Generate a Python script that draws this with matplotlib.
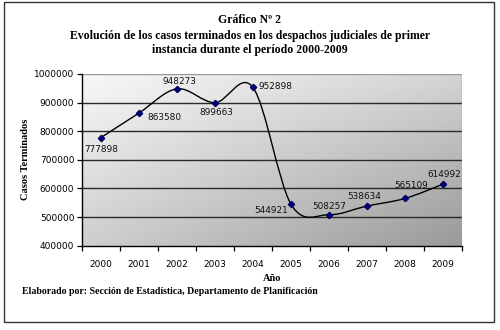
import numpy as np
import matplotlib
matplotlib.use("Agg")
import matplotlib.pyplot as plt
from matplotlib.path import Path
from matplotlib.patches import PathPatch, Rectangle

# Casos terminados por año
years = ["2000", "2001", "2002", "2003", "2004", "2005", "2006", "2007", "2008", "2009"]
casos = [777898, 863580, 948273, 899663, 952898, 544921, 508257, 538634, 565109, 614992]
y_ticks = [400000, 500000, 600000, 700000, 800000, 900000, 1000000]

title_lines = [
    "Gráfico Nº 2",
    "Evolución de los casos terminados en los despachos judiciales de primer",
    "instancia durante el período 2000-2009",
]
footer = "Elaborado por: Sección de Estadística, Departamento de Planificación"

W, H = 500, 330
fig = plt.figure(figsize=(W / 100, H / 100), dpi=100)
fig.patch.set_facecolor("white")

# outer frame
fig.add_artist(Rectangle((4 / W, 1 - 322 / H), 490 / W, 320 / H,
                         transform=fig.transFigure, fill=False,
                         edgecolor="#333333", lw=1.0))

ax = fig.add_axes([82 / W, 1 - 245.7 / H, 380 / W, 171.7 / H])
x = np.arange(len(years))
ax.set_xlim(-0.5, len(years) - 0.5)
ax.set_ylim(y_ticks[0], y_ticks[-1])

# diagonal grey gradient background: light top-left, dark bottom-right
gx, gy = np.meshgrid(np.linspace(0, 1, 200), np.linspace(0, 1, 100))
shade = 0.97 - 0.14 * gx - 0.16 * gy - 0.07 * gx * gy
ax.imshow(shade, cmap="gray", vmin=0, vmax=1, aspect="auto", origin="upper",
          extent=(0, 1, 0, 1), transform=ax.transAxes, zorder=0,
          interpolation="bilinear")

# horizontal gridlines
for v in y_ticks[1:-1]:
    ax.axhline(v, color="#2a2a2a", lw=1.0, zorder=1)
ax.axhline(y_ticks[-1], color="#999999", lw=1.0, zorder=1)

# smoothed line (cubic Bézier through every point, Catmull-Rom tangents)
pts = np.column_stack([x, casos]).astype(float)
verts = [pts[0]]
codes = [Path.MOVETO]
n = len(pts)
for i in range(n - 1):
    p0 = pts[max(i - 1, 0)]
    p1 = pts[i]
    p2 = pts[i + 1]
    p3 = pts[min(i + 2, n - 1)]
    c1 = p1 + (p2 - p0) / 6.0
    c2 = p2 - (p3 - p1) / 6.0
    verts += [c1, c2, p2]
    codes += [Path.CURVE4] * 3
ax.add_patch(PathPatch(Path(verts, codes), fill=False, edgecolor="black",
                       lw=1.0, zorder=3))
ax.plot(x, casos, linestyle="none", marker="D", markersize=3.2,
        markerfacecolor="#000080", markeredgecolor="#000060", zorder=4)

# value labels
offsets = [(0, -8.3), (18, -3.4), (1.4, 5.6), (0.7, -7.4), (16.5, 0.4),
           (-14.4, -4.7), (0, 5.8), (-2.2, 6.7), (4.3, 9.0), (0.7, 6.8)]
for xi, v, off in zip(x, casos, offsets):
    ax.annotate(f"{v}", (xi, v), xytext=off, textcoords="offset points",
                ha="center", va="center", fontsize=6.4,
                family="DejaVu Sans", color="#111111", zorder=5)

# axes styling
for side in ("top", "right"):
    ax.spines[side].set_visible(False)
ax.spines["left"].set_color("black")
ax.spines["bottom"].set_color("black")
ax.spines["left"].set_linewidth(1.0)
ax.spines["bottom"].set_linewidth(1.0)
ax.axvline(len(years) - 0.5, color="#999999", lw=1.0, zorder=1)

ax.set_yticks(y_ticks)
ax.set_yticklabels([str(t) for t in y_ticks], fontsize=6.5, family="DejaVu Sans")
ax.set_xticks(np.arange(-0.5, len(years)))
ax.set_xticklabels([])
ax.set_xticks(x, minor=True)
ax.set_xticklabels(years, minor=True, fontsize=6.5, family="DejaVu Sans")
ax.tick_params(axis="x", which="major", length=3.5, width=0.9, direction="out")
ax.tick_params(axis="x", which="minor", length=0, pad=10)
ax.tick_params(axis="y", length=3.5, width=0.9, direction="out", pad=2)

serif = "Liberation Serif"
ax.set_ylabel("Casos Terminados", family=serif, fontweight="bold",
              fontsize=7.5, labelpad=3)
ax.set_xlabel("Año", family=serif, fontweight="bold", fontsize=7.5, labelpad=4)

title_y = [20, 36, 50]
for line, ty in zip(title_lines, title_y):
    fig.text(0.5, 1 - ty / H, line, ha="center", va="center",
             family=serif, fontweight="bold", fontsize=8.5)

fig.text(22 / W, 1 - 291 / H, footer, ha="left", va="center",
         family=serif, fontweight="bold", fontsize=7.1)

fig.savefig("out.png", dpi=100)
